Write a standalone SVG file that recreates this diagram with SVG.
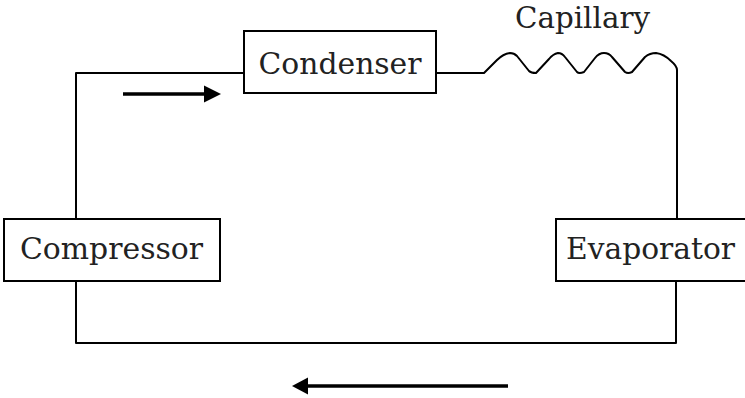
<svg xmlns="http://www.w3.org/2000/svg" width="745" height="398" viewBox="0 0 745 398">
<style>
  .box{fill:#fff;stroke:#000;stroke-width:2}
  .lbl{font-family:"DejaVu Serif","Liberation Serif",serif;font-size:30px;fill:#222}
  .wire{fill:none;stroke:#000;stroke-width:2;stroke-linejoin:round}
  .flow{stroke:#000;stroke-width:3.5}
</style>
<rect width="745" height="398" fill="#fff"/>
<g id="connectors">
  <path class="wire" d="M244,73 H76 V219"/>
  <path class="wire" d="M76,281 V343 H676 V281"/>
  <path class="wire" d="M436,73 H484 L497,60 Q503,54 510,53 Q514,53 517,56 L529,71 Q531,73 536,73 L549,59 Q553,54 558,53 Q562,53 565,57 L577,72 Q579,74 584,72 L595,58 Q599,53 604,53 Q609,53 612,57 L625,72 Q628,74 632,72 L645,57 Q650,53 656,53 Q664,54 671,61 Q677,66 677,70 V219"/>
  <g id="flow-top">
    <line class="flow" x1="123" y1="94" x2="206" y2="94"/>
    <polygon points="204,85.5 221,94 204,102.5" fill="#000"/>
  </g>
  <g id="flow-bottom">
    <line class="flow" x1="306" y1="386" x2="508" y2="386"/>
    <polygon points="308,377.5 292,386 308,394.5" fill="#000"/>
  </g>
</g>
<g id="condenser">
  <rect class="box" x="244" y="31" width="192" height="62"/>
  <text class="lbl" x="340" y="74" text-anchor="middle" textLength="163" lengthAdjust="spacingAndGlyphs">Condenser</text>
</g>
<g id="capillary">
  <text class="lbl" x="582.5" y="28" text-anchor="middle" textLength="135" lengthAdjust="spacingAndGlyphs">Capillary</text>
</g>
<g id="compressor">
  <rect class="box" x="4" y="219" width="216" height="62"/>
  <text class="lbl" x="111.5" y="259" text-anchor="middle" textLength="183" lengthAdjust="spacingAndGlyphs">Compressor</text>
</g>
<g id="evaporator">
  <rect class="box" x="556" y="219" width="200" height="62"/>
  <text class="lbl" x="566" y="259" textLength="169" lengthAdjust="spacingAndGlyphs">Evaporator</text>
</g>
</svg>
